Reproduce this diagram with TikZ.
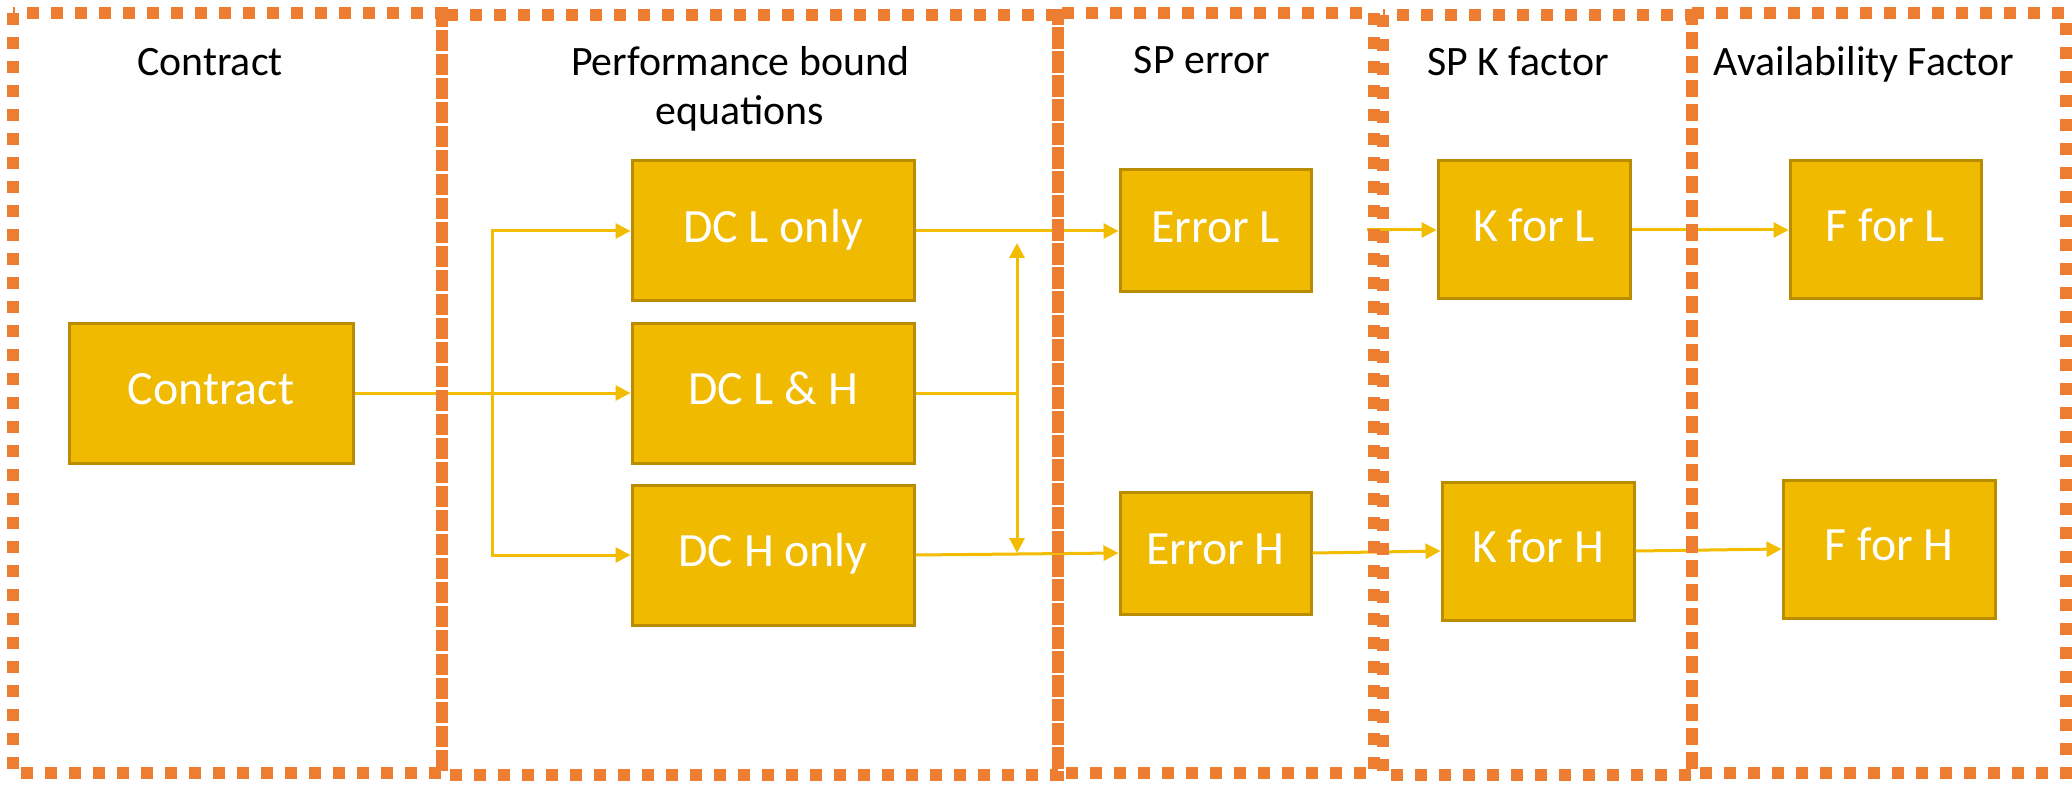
\documentclass[tikz,border=0pt]{standalone}
\usepackage{fontspec}
\setmainfont{Carlito}
\usetikzlibrary{arrows.meta}

\definecolor{panelorange}{RGB}{237,125,49}
\definecolor{goldfill}{RGB}{240,186,0}
\definecolor{goldedge}{RGB}{186,140,0}
\definecolor{goldline}{RGB}{242,188,0}

\tikzset{
  panel/.style={draw=panelorange, line width=1.2mm, dash pattern=on 1.2mm off 1.2mm},
  stagebox/.style={draw=goldedge, fill=goldfill, line width=0.3mm, text=white,
    font=\fontsize{13.6pt}{16pt}\selectfont, text height=0.63em, text depth=0pt,
    inner sep=0pt, minimum height=14mm},
  heading/.style={anchor=base, font=\fontsize{11.9pt}{14.2pt}\selectfont,
    inner sep=0pt, align=center},
  flow/.style={draw=goldline, line width=0.3mm},
  arrowed/.style={-{Triangle[length=1.5mm,width=1.5mm]}},
  twoway/.style={{Triangle[length=1.5mm,width=1.5mm]}-{Triangle[length=1.5mm,width=1.5mm]}},
}

\begin{document}
\begin{tikzpicture}[x=0.1mm, y=-0.1mm]
  \useasboundingbox (0,0) rectangle (2072,785);

  % stage boxes
  \node[stagebox, minimum width=28.4mm] (contract) at (211,393) {Contract};
  \node[stagebox, minimum width=28.2mm] (dcL)  at (773,231) {DC L only};
  \node[stagebox, minimum width=28.2mm] (dcLH) at (773,393) {DC L \& H};
  \node[stagebox, minimum width=28.2mm] (dcH)  at (773,555) {DC H only};
  \node[stagebox, minimum width=19.1mm, minimum height=12.2mm] (errL) at (1215.5,231) {Error L};
  \node[stagebox, minimum width=19.1mm, minimum height=12.2mm] (errH) at (1215.5,553) {Error H};
  \node[stagebox, minimum width=19.2mm, minimum height=13.8mm] (kL) at (1534,230) {K for L};
  \node[stagebox, minimum width=19.2mm, minimum height=13.8mm] (kH) at (1538,551) {K for H};
  \node[stagebox, minimum width=19.1mm, minimum height=13.8mm] (fL) at (1885.5,230) {F for L};
  \node[stagebox, minimum width=21.2mm, minimum height=13.8mm] (fH) at (1889,549) {F for H};

  % branch and merge points
  \coordinate (split) at (492,393);
  \coordinate (join) at (1017,393);
  \coordinate (joinTop) at (1017,243);
  \coordinate (joinBot) at (1017,553);
  \coordinate (kFeed) at (1367,230);

  % connectors
  \draw[flow] (contract.east) -- (split);
  \draw[flow, arrowed] (split) |- (dcL.west);
  \draw[flow, arrowed] (split) -- (dcLH.west);
  \draw[flow, arrowed] (split) |- (dcH.west);
  \draw[flow, arrowed] (dcL.east) -- (errL.west);
  \draw[flow] (dcLH.east) -- (join);
  \draw[flow, twoway] (joinTop) -- (joinBot);
  \draw[flow, arrowed] (dcH.east) -- (errH.west);
  \draw[flow, arrowed] (kFeed) -- (kL.west);
  \draw[flow, arrowed] (errH.east) -- (kH.west);
  \draw[flow, arrowed] (kL.east) -- (fL.west);
  \draw[flow, arrowed] (kH.east) -- (fH.west);

  % dotted stage panels
  \draw[panel] (13,13) rectangle (442,773);
  \draw[panel] (442,15) rectangle (1058,775);
  \draw[panel] (1058,13) rectangle (1374,773);
  \draw[panel] (1383,15) rectangle (1692,775);
  \draw[panel] (1692,13) rectangle (2066,773);

  % panel headings (base sits on the last line)
  \node[heading] (hContract) at (210,76) {Contract};
  \node[heading] (hPerf) at (740,125) {Performance bound\\equations};
  \node[heading] (hErr) at (1202,74) {SP error};
  \node[heading] (hK) at (1518,76) {SP K factor};
  \node[heading] (hAvail) at (1864,76) {Availability Factor};
\end{tikzpicture}
\end{document}
